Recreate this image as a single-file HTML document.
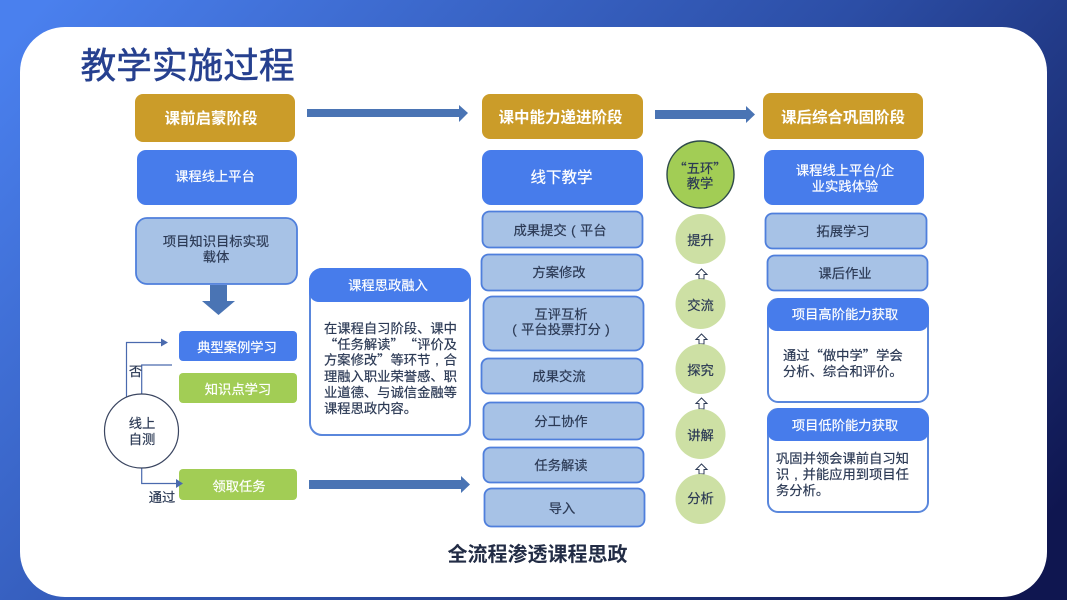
<!DOCTYPE html>
<html lang="zh">
<head>
<meta charset="utf-8">
<title>教学实施过程</title>
<style>
html,body{margin:0;padding:0;width:1067px;height:600px;overflow:hidden;background:#fff}
svg{display:block;filter:blur(0.35px)}
text{font-family:"Noto Sans CJK SC","WenQuanYi Zen Hei",sans-serif;text-spacing-trim:space-all}
tspan.p{font-family:"Liberation Sans",sans-serif}
.c{text-anchor:middle}
.s,.l{font-size:13.3px;fill:#2c3a55;stroke:#2c3a55;stroke-width:.2px}
.w{font-size:13.3px;fill:#fff;stroke:#fff;stroke-width:.2px}
.g{font-size:15.5px;font-weight:700;fill:#fff}
.blue{fill:#477ceb}
.gold{fill:#cb9c29}
.green{fill:#a2cd55}
.light{fill:#a7c2e6;stroke:#4f7fdc;stroke-width:1.8}
.card{fill:#fff;stroke:#5a87dc;stroke-width:2}
.pale{fill:#cde0a4}
.arr{fill:#4a74b4}
.line{fill:none;stroke:#4a6aae;stroke-width:1.2}
.up{fill:#fff;stroke:#2c3a55;stroke-width:1}
</style>
</head>
<body>
<svg width="1067" height="600" viewBox="0 0 1067 600" xmlns="http://www.w3.org/2000/svg">
<defs>
<linearGradient id="bg" gradientUnits="userSpaceOnUse" x1="100" y1="-60" x2="900" y2="680">
<stop offset="0" stop-color="#4a80ee"/>
<stop offset="0.55" stop-color="#2c4ea6"/>
<stop offset="1" stop-color="#0f1650"/>
</linearGradient>
</defs>
<rect x="-2" y="-2" width="1071" height="604" fill="url(#bg)"/>
<rect x="20" y="27" width="1027" height="570" rx="45" ry="45" fill="#fff"/>

<text x="80.500" y="78" font-size="35.700" fill="#26408f" stroke="#26408f" stroke-width=".5">教学实施过程</text>

<!-- left column -->
<rect x="135" y="94" width="160" height="48" rx="8" class="gold"/>
<text x="211" y="123.500" class="g c">课前启蒙阶段</text>
<rect x="137" y="150" width="160" height="55" rx="9" class="blue"/>
<text x="215" y="181" class="w c">课程线上平台</text>
<rect x="136" y="218" width="161" height="66" rx="11" class="light"/>
<text x="216" y="246" class="s c">项目知识目标实现</text>
<text x="216" y="261.500" class="s c">载体</text>

<path class="arr" d="M210 285H227V301H235L218.500 315L202 301H210Z"/>

<rect x="179" y="331" width="118" height="30" rx="4" class="blue"/>
<text x="237" y="352" class="w c">典型案例学习</text>
<rect x="179" y="373" width="118" height="30" rx="4" class="green"/>
<text x="238" y="394" class="w c">知识点学习</text>
<rect x="179" y="469" width="118" height="31" rx="4" class="green"/>
<text x="239" y="491" class="w c">领取任务</text>

<path class="line" d="M126.500 397V342.500H163"/>
<path d="M161 338.500L168 342.500L161 346.500Z" fill="#4a6aae"/>
<path class="line" d="M141.700 394V365H172"/>
<path class="line" d="M141.700 468V483.500H178"/>
<path d="M176 479L183 483.500L176 488Z" fill="#4a6aae"/>
<circle cx="141.500" cy="431" r="37" fill="#fff" stroke="#3a4560" stroke-width="1.2"/>
<text x="142" y="428" class="s c">线上</text>
<text x="142" y="444" class="s c">自测</text>
<text x="135.500" y="376" class="s c">否</text>
<text x="162" y="502" class="s c">通过</text>

<!-- arrows -->
<path class="arr" d="M307 109H459V105L468 113L459 122V117H307Z"/>
<path class="arr" d="M309 480H461V476L470 484.500L461 493V489H309Z"/>
<path class="arr" d="M655 110H746V106L755 114.500L746 123V119H655Z"/>

<!-- 思政 card -->
<rect x="310" y="269" width="160" height="166" rx="12" class="card"/>
<path class="blue" d="M322 268H459A12 12 0 0 1 471 280V292A10 10 0 0 1 461 302H319A10 10 0 0 1 309 292V281A13 13 0 0 1 322 268Z"/>
<text x="388" y="290" class="w c">课程思政融入</text>
<text x="324" y="333" class="l">在课程自习阶段、课中</text>
<text x="324" y="349" class="l">“任务解读”“评价及</text>
<text x="324" y="364.500" class="l">方案修改”等环节<tspan class="p" dx="4.800">,</tspan><tspan dx="4.800">合</tspan></text>
<text x="324" y="381" class="l">理融入职业荣誉感、职</text>
<text x="324" y="397" class="l">业道德、与诚信金融等</text>
<text x="324" y="413" class="l">课程思政内容。</text>

<!-- middle column -->
<rect x="482" y="94" width="161" height="45" rx="8" class="gold"/>
<text x="560.500" y="122.500" class="g c">课中能力递进阶段</text>
<rect x="482" y="150" width="161" height="55" rx="9" class="blue"/>
<text x="561.500" y="182.500" class="c" font-size="15.500" fill="#fff" stroke="#fff" stroke-width=".2">线下教学</text>
<rect x="482.500" y="211.500" width="160" height="36" rx="7" class="light"/>
<text x="560" y="235" class="s c">成果提交<tspan class="p" dx="4.400">(</tspan><tspan dx="4.400">平台</tspan></text>
<rect x="481.500" y="254.500" width="161" height="36" rx="7" class="light"/>
<text x="559" y="277" class="s c">方案修改</text>
<rect x="483.500" y="296.500" width="160" height="54" rx="9" class="light"/>
<text x="561" y="319" class="s c">互评互析</text>
<text x="561" y="334" class="s c"><tspan class="p">(</tspan><tspan dx="4.400">平台投票打分</tspan><tspan class="p" dx="4.400">)</tspan></text>
<rect x="481.500" y="358.500" width="161" height="35" rx="7" class="light"/>
<text x="559" y="381" class="s c">成果交流</text>
<rect x="483.500" y="402.500" width="160" height="37" rx="7" class="light"/>
<text x="561" y="426" class="s c">分工协作</text>
<rect x="483.500" y="447.500" width="160" height="35" rx="7" class="light"/>
<text x="561" y="470" class="s c">任务解读</text>
<rect x="484.500" y="488.500" width="160" height="38" rx="7" class="light"/>
<text x="562" y="513" class="s c">导入</text>

<!-- circles -->
<circle cx="700.500" cy="174.500" r="33.500" fill="#a2cd55" stroke="#2e4a4a" stroke-width="1.4"/>
<text x="700" y="173" class="s c">“五环”</text>
<text x="700" y="188" class="s c">教学</text>

<circle cx="700.500" cy="239" r="25" class="pale"/>
<text x="700.500" y="245" class="s c">提升</text>
<path class="up" d="M701.500 269L707 274.500H704V279H699V274.500H696Z"/>
<circle cx="700.500" cy="304" r="25" class="pale"/>
<text x="700.500" y="310" class="s c">交流</text>
<path class="up" d="M701.500 334L707 339.500H704V344H699V339.500H696Z"/>
<circle cx="700.500" cy="369" r="25" class="pale"/>
<text x="700.500" y="375" class="s c">探究</text>
<path class="up" d="M701.500 398L707 403.500H704V409H699V403.500H696Z"/>
<circle cx="700.500" cy="434" r="25" class="pale"/>
<text x="700.500" y="440" class="s c">讲解</text>
<path class="up" d="M701.500 464L707 469.500H704V474H699V469.500H696Z"/>
<circle cx="700.500" cy="499" r="25" class="pale"/>
<text x="700.500" y="503" class="s c">分析</text>

<!-- right column -->
<rect x="763" y="93" width="160" height="46" rx="8" class="gold"/>
<text x="843" y="122.500" class="g c">课后综合巩固阶段</text>
<rect x="764" y="150" width="160" height="55" rx="9" class="blue"/>
<text x="845" y="175" class="w c">课程线上平台/企</text>
<text x="845" y="191" class="w c">业实践体验</text>
<rect x="765.500" y="213.500" width="161" height="35" rx="7" class="light"/>
<text x="843" y="236" class="s c">拓展学习</text>
<rect x="767.500" y="255.500" width="160" height="35" rx="7" class="light"/>
<text x="845" y="278" class="s c">课后作业</text>

<rect x="768" y="299" width="160" height="103" rx="10" class="card"/>
<path class="blue" d="M780 298H917A12 12 0 0 1 929 310V321A10 10 0 0 1 919 331H777A10 10 0 0 1 767 321V311A13 13 0 0 1 780 298Z"/>
<text x="845" y="319" class="w c">项目高阶能力获取</text>
<text x="783" y="360" class="l">通过“做中学”学会</text>
<text x="783" y="376" class="l">分析、综合和评价。</text>

<rect x="768" y="409" width="160" height="103" rx="10" class="card"/>
<path class="blue" d="M780 408H917A12 12 0 0 1 929 420V431A10 10 0 0 1 919 441H777A10 10 0 0 1 767 431V421A13 13 0 0 1 780 408Z"/>
<text x="845" y="430" class="w c">项目低阶能力获取</text>
<text x="776" y="463" class="l">巩固并领会课前自习知</text>
<text x="776" y="479" class="l">识<tspan class="p" dx="4.800">,</tspan><tspan dx="4.800">并能应用到项目任</tspan></text>
<text x="776" y="495" class="l">务分析。</text>

<text x="537.500" y="561" class="c" font-size="20" font-weight="700" fill="#222c45">全流程渗透课程思政</text>
</svg>
</body>
</html>
